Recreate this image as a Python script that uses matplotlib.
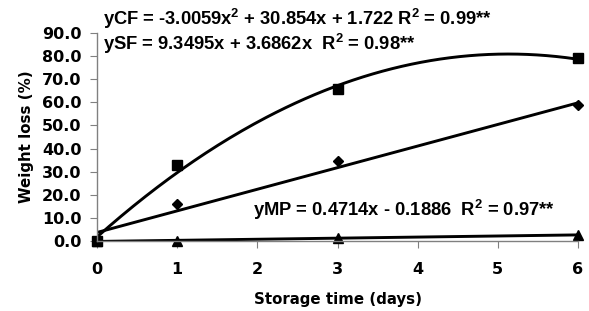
import numpy as np
import matplotlib
matplotlib.use("Agg")
import matplotlib.pyplot as plt

plt.rcParams['font.family'] = ['DejaVu Sans']
plt.rcParams['font.weight'] = 'bold'
plt.rcParams['mathtext.fontset'] = 'custom'
plt.rcParams['mathtext.rm'] = 'Liberation Sans:bold'
plt.rcParams['mathtext.it'] = 'Liberation Sans:bold'
plt.rcParams['mathtext.bf'] = 'Liberation Sans:bold'

days = [0, 1, 3, 6]
cf = [0.0, 32.8, 65.8, 79.2]
sf = [0.0, 16.0, 34.6, 58.9]
mp = [0.0, 0.0, 1.2, 2.8]

cf_coef = [-3.0059, 30.854, 1.722]
sf_coef = [9.3495, 3.6862]
mp_coef = [0.4714, -0.1886]

cf_label = "yCF = -3.0059x$^{2}$ + 30.854x + 1.722 R$^{2}$ = 0.99**"
sf_label = "ySF = 9.3495x + 3.6862x  R$^{2}$ = 0.98**"
mp_label = "yMP = 0.4714x - 0.1886  R$^{2}$ = 0.97**"

xticks = [0, 1, 2, 3, 4, 5, 6]
yticks = [0, 10, 20, 30, 40, 50, 60, 70, 80, 90]

fig = plt.figure(figsize=(5.89, 3.11), dpi=100)
ax = fig.add_axes([97/589, 1 - 241/311, (578-97)/589, (241-33)/311])

xs = np.linspace(0, 6, 200)
ax.plot(xs, np.polyval(cf_coef, xs), color='black', lw=2.1)
ax.plot(xs, np.polyval(sf_coef, xs), color='black', lw=2.1)
ax.plot(xs, np.polyval(mp_coef, xs), color='black', lw=2.1)

ax.plot(days, cf, ls='none', marker='s', ms=7.5, color='black', clip_on=False)
ax.plot(days, sf, ls='none', marker='D', ms=5.5, color='black', clip_on=False)
ax.plot(days, mp, ls='none', marker='^', ms=7.5, color='black', clip_on=False)

ax.set_xlim(0, 6)
ax.set_ylim(0, 90)
ax.set_xticks(xticks)
ax.set_yticks(yticks)
ax.set_yticklabels([f"{v:.1f}" for v in yticks])
for s in ['top', 'right']:
    ax.spines[s].set_visible(False)
for s in ['left', 'bottom']:
    ax.spines[s].set_color('#808080')
    ax.spines[s].set_linewidth(1.0)
ax.tick_params(axis='both', direction='out', colors='#808080', length=5,
               labelcolor='black', labelsize=11.5)
ax.tick_params(axis='x', pad=10)
ax.tick_params(axis='y', pad=6)
for lab in ax.get_xticklabels() + ax.get_yticklabels():
    lab.set_fontweight('bold')

ax.set_xlabel("Storage time (days)", fontsize=10.8, fontweight='bold', labelpad=11)
ax.set_ylabel("Weight loss (%)", fontsize=10.8, fontweight='bold', labelpad=6)

eq_font = ['Liberation Sans', 'DejaVu Sans']
fig.text(103/589, 1 - 25/311, cf_label, fontsize=13.2, fontweight='bold',
         family=eq_font, va='baseline')
fig.text(103/589, 1 - 50/311, sf_label, fontsize=13.2, fontweight='bold',
         family=eq_font, va='baseline')
fig.text(253/589, 1 - 216/311, mp_label, fontsize=13.2, fontweight='bold',
         family=eq_font, va='baseline')

fig.savefig("out.png", dpi=100)
